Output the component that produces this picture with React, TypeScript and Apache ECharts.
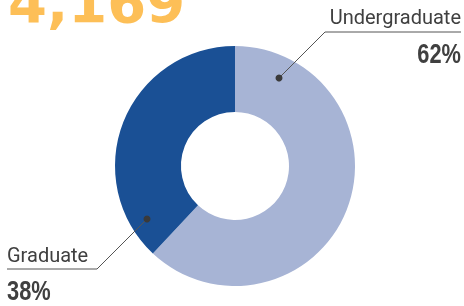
import React, { useEffect, useRef } from "react";
import * as echarts from "echarts";

const categories = ["Undergraduate", "Graduate"];
const values = [62, 38];
const percentLabels = ["62%", "38%"];
const totalLabel = "4,169";
const colors = ["#A7B4D5", "#1A5095"];

export default function App() {
  const ref = useRef<HTMLDivElement>(null);
  useEffect(() => {
    if (!ref.current) return;
    const chart = echarts.init(ref.current, null, { renderer: "svg" });
    const textColor = "#404040";
    const lineColor = "#555555";
    const pctFont = "'Liberation Sans', Arial, sans-serif";
    chart.setOption({
      animation: false,
      series: [
        {
          type: "pie",
          z: 1,
          center: [235, 166],
          radius: [54, 120],
          startAngle: 90,
          clockwise: true,
          label: { show: false },
          labelLine: { show: false },
          emphasis: { disabled: true },
          data: categories.map((name, i) => ({
            name,
            value: values[i],
            itemStyle: { color: colors[i] },
          })),
        },
      ],
      graphic: [
        {
          type: "text",
          left: 8,
          top: -26,
          z: 100,
          style: {
            text: totalLabel,
            fontFamily: "DejaVu Sans",
            fontWeight: "bold",
            fontSize: 56,
            fill: "#FDBF57",
          },
        },
        {
          type: "polyline",
          z: 100,
          shape: { points: [[279, 78], [325, 32], [461, 32]] },
          style: { stroke: lineColor, lineWidth: 1, fill: null },
        },
        {
          type: "polyline",
          z: 100,
          shape: { points: [[147, 219], [97, 269], [7, 269]] },
          style: { stroke: lineColor, lineWidth: 1, fill: null },
        },
        { type: "circle", z: 101, shape: { cx: 279, cy: 78, r: 3.5 }, style: { fill: "#3a3a3a" } },
        { type: "circle", z: 101, shape: { cx: 147, cy: 219, r: 3.5 }, style: { fill: "#3a3a3a" } },
        {
          type: "text",
          z: 100,
          x: 461,
          y: 16.5,
          style: {
            text: categories[0],
            align: "right",
            verticalAlign: "middle",
            fontFamily: "Roboto",
            fontSize: 20,
            fill: textColor,
          },
        },
        {
          type: "text",
          z: 100,
          x: 461,
          y: 52.5,
          scaleX: 0.78,
          style: {
            text: percentLabels[0],
            align: "right",
            verticalAlign: "middle",
            fontFamily: pctFont,
            fontWeight: "bold",
            fontSize: 28,
            fill: textColor,
          },
        },
        {
          type: "text",
          z: 100,
          x: 7,
          y: 254.5,
          style: {
            text: categories[1],
            align: "left",
            verticalAlign: "middle",
            fontFamily: "Roboto",
            fontSize: 20,
            fill: textColor,
          },
        },
        {
          type: "text",
          z: 100,
          x: 7,
          y: 290,
          scaleX: 0.78,
          style: {
            text: percentLabels[1],
            align: "left",
            verticalAlign: "middle",
            fontFamily: pctFont,
            fontWeight: "bold",
            fontSize: 28,
            fill: textColor,
          },
        },
      ],
    });
    return () => chart.dispose();
  }, []);
  return (
    <div
      ref={ref}
      style={{ position: "fixed", left: 0, top: 0, width: 464, height: 306 }}
    />
  );
}
